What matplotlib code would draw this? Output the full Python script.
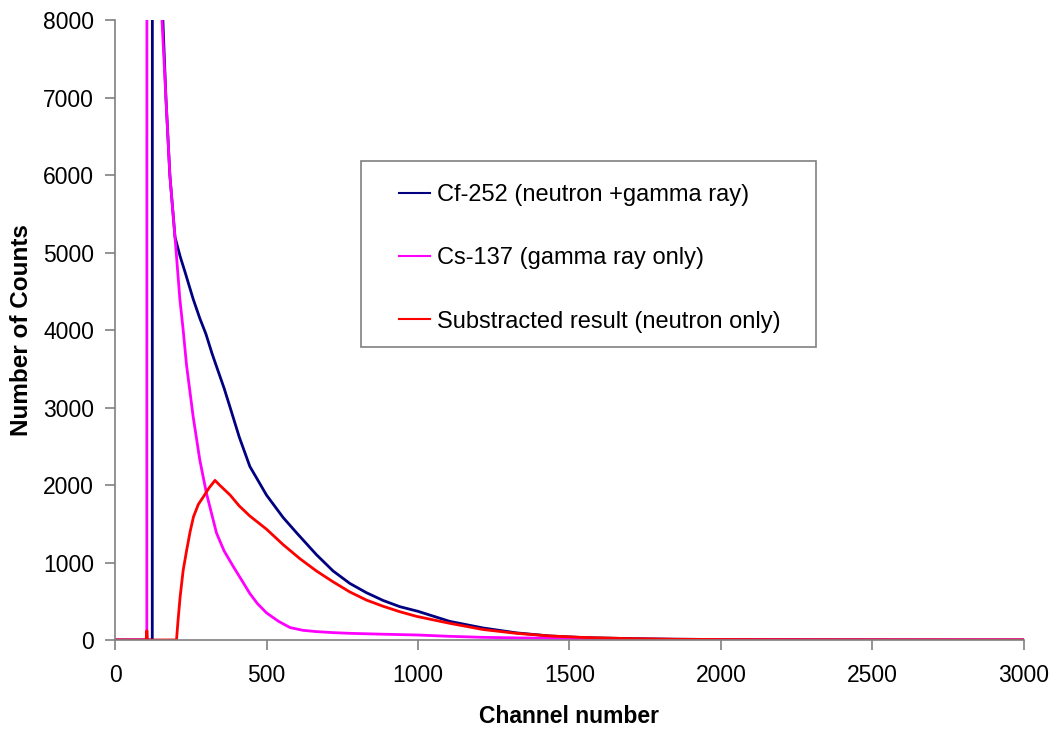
import matplotlib
matplotlib.use('Agg')

import matplotlib.pyplot as plt
from matplotlib.patches import Rectangle

plt.rcParams['font.family'] = ['Liberation Sans', 'DejaVu Sans']

# Cf-252 (neutron + gamma ray)
cf_channel = [0, 120, 123, 124, 140, 158, 168, 181, 198, 215, 231, 258, 280, 300, 320,
              335, 360, 380, 410, 445, 500, 555, 600, 665, 720, 775, 830, 885, 940,
              1000, 1105, 1215, 1325, 1435, 1550, 1700, 1850, 2000, 2200, 2500, 3000]
cf_counts = [0, 0, 0, 30000, 12000, 8000, 7000, 6000, 5200, 4950, 4750, 4400, 4150, 3950, 3700,
             3530, 3250, 3000, 2620, 2240, 1870, 1580, 1380, 1100, 890, 730, 610, 510, 430,
             370, 240, 155, 92, 52, 30, 18, 10, 6, 3, 1, 0]

# Cs-137 (gamma ray only)
cs_channel = [0, 103, 105, 106, 130, 155, 168, 181, 200, 214, 225, 236, 258, 280, 302,
              335, 360, 390, 420, 445, 470, 500, 540, 578, 620, 665, 720, 775, 880,
              995, 1100, 1215, 1330, 1435, 1550, 1700, 2000, 2500, 3000]
cs_counts = [0, 0, 0, 30000, 15000, 8000, 7000, 6000, 5100, 4400, 4000, 3550, 2880, 2320, 1890,
             1380, 1150, 950, 760, 600, 470, 350, 240, 160, 125, 108, 95, 86, 75,
             65, 48, 34, 27, 22, 15, 8, 4, 1, 0]

# Substracted result (neutron only)
sub_channel = [0, 103, 105, 107, 203, 208, 215, 225, 237, 248, 259, 275, 292, 310, 330,
               345, 380, 410, 445, 500, 555, 610, 665, 720, 775, 830, 885, 940,
               995, 1105, 1215, 1325, 1435, 1550, 1700, 1850, 2000, 2200, 2500, 3000]
sub_counts = [0, 0, 120, 0, 0, 250, 560, 900, 1170, 1400, 1590, 1750, 1850, 1960, 2060,
              2000, 1870, 1730, 1600, 1430, 1230, 1050, 890, 750, 620, 515, 435, 365,
              305, 215, 135, 86, 52, 32, 18, 10, 6, 3, 1, 0]

labels = ['Cf-252 (neutron +gamma ray)', 'Cs-137 (gamma ray only)',
          'Substracted result (neutron only)']
colors = ['#000080', '#FF00FF', '#FF0000']

fig = plt.figure(figsize=(10.6, 7.31), dpi=100)
ax = fig.add_axes([0.1085, 0.1245, 0.8575, 0.848])

ax.plot(cf_channel, cf_counts, color=colors[0], lw=2, label=labels[0])
ax.plot(cs_channel, cs_counts, color=colors[1], lw=2, label=labels[1])
ax.plot(sub_channel, sub_counts, color=colors[2], lw=2, label=labels[2])

ax.set_xlim(0, 3000)
ax.set_ylim(0, 8000)
ax.set_xticks(range(0, 3001, 500))
ax.set_yticks(range(0, 8001, 1000))

for side in ['top', 'right']:
    ax.spines[side].set_visible(False)
for side in ['left', 'bottom']:
    ax.spines[side].set_color('#808080')
    ax.spines[side].set_linewidth(1.2)
ax.tick_params(direction='out', length=7, width=1.2, color='#808080',
               labelsize=16.5)
ax.tick_params(axis='x', pad=10)
ax.tick_params(axis='y', pad=8)

ax.set_xlabel('Channel number', fontsize=16.5, fontweight='bold', labelpad=13)
ax.set_ylabel('Number of Counts', fontsize=17.5, fontweight='bold', labelpad=7)

# legend box
ax.add_patch(Rectangle((0.2706, 0.4726), 0.5006, 0.30, transform=ax.transAxes,
                       fill=False, edgecolor='#808080', lw=1.2, zorder=5))
leg = ax.legend(loc='upper left', bbox_to_anchor=(0.2706 + 0.042, 0.7726 - 0.037),
                frameon=False, fontsize=17, handlelength=1.3, handletextpad=0.3,
                labelspacing=1.75, borderaxespad=0, borderpad=0)
for line in leg.get_lines():
    line.set_linewidth(1.5)

fig.savefig('out.png', dpi=100)
plt.close(fig)
